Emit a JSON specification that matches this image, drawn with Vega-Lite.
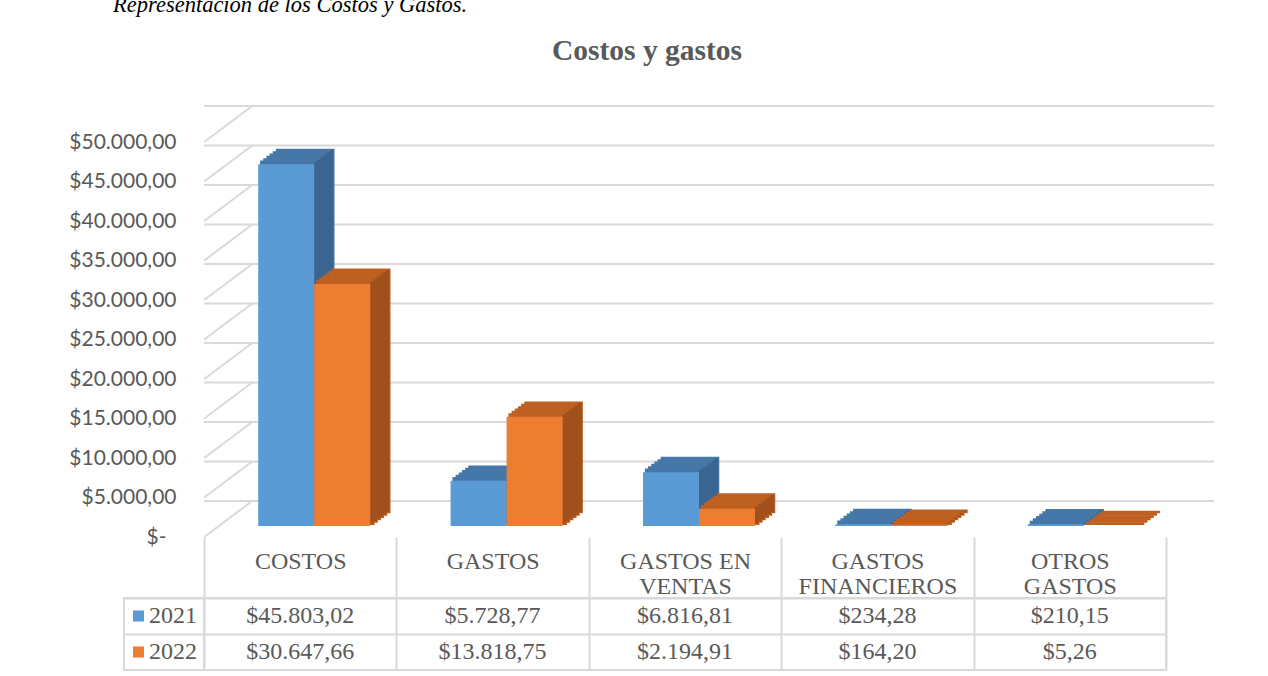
{
  "$schema": "https://vega.github.io/schema/vega-lite/v6.json",
  "padding": {"left": 68, "top": -6, "right": 0, "bottom": 0},
  "config": {
    "view": {"stroke": null},
    "font": "Liberation Serif",
    "locale": {"number": {"decimal": ",", "thousands": ".", "grouping": [3], "currency": ["$", ""]}}
  },
  "title": {"text": "Representación de los Costos y Gastos.", "font": "Liberation Serif", "fontStyle": "italic", "fontWeight": "normal", "fontSize": 22.5, "color": "#000000", "anchor": "start", "frame": "group", "offset": 19, "dx": -11},
  "datasets": {
    "main": [
      {"cat": "COSTOS", "year": "2021", "val": 45803.02},
      {"cat": "COSTOS", "year": "2022", "val": 30647.66},
      {"cat": "GASTOS", "year": "2021", "val": 5728.77},
      {"cat": "GASTOS", "year": "2022", "val": 13818.75},
      {"cat": "GASTOS EN VENTAS", "year": "2021", "val": 6816.81},
      {"cat": "GASTOS EN VENTAS", "year": "2022", "val": 2194.91},
      {"cat": "GASTOS FINANCIEROS", "year": "2021", "val": 234.28},
      {"cat": "GASTOS FINANCIEROS", "year": "2022", "val": 164.20},
      {"cat": "OTROS GASTOS", "year": "2021", "val": 210.15},
      {"cat": "OTROS GASTOS", "year": "2022", "val": 5.26}
    ],
    "grid": [{"val": 0}, {"val": 5000}, {"val": 10000}, {"val": 15000}, {"val": 20000}, {"val": 25000}, {"val": 30000}, {"val": 35000}, {"val": 40000}, {"val": 45000}, {"val": 50000}],
    "years": [{"year": "2021"}, {"year": "2022"}]
  },
  "columns": 2,
  "spacing": {"row": 61, "column": 0},
  "bounds": "flush",
  "align": "each",
  "concat": [
    {
      "width": 80, "height": 395,
      "data": {"name": "years"},
      "mark": {"type": "text"},
      "encoding": {"text": {"value": ""}}
    },
    {
      "width": 962, "height": 395,
      "title": {"text": "Costos y gastos", "font": "Liberation Serif", "fontSize": 29.5, "fontWeight": "bold", "color": "#595959", "anchor": "middle", "frame": "group", "dx": -38, "offset": 36},
      "encoding": {
        "y": {"field": "val", "type": "quantitative", "scale": {"domain": [0, 50000]},
          "axis": {"title": null, "domain": false, "ticks": false, "grid": false, "values": [0, 5000, 10000, 15000, 20000, 25000, 30000, 35000, 40000, 45000, 50000], "format": "$,.2f", "labelExpr": "datum.value == 0 ? '$-' : datum.label", "labelPadding": {"expr": "datum.value == 0 ? 38 : 28"}, "labelFont": "Lato", "labelFontSize": 21, "labelColor": "#595959"}}
      },
      "layer": [
        {
          "data": {"name": "grid"},
          "mark": {"type": "rule", "color": "#d9d9d9", "strokeWidth": 2, "xOffset": 48, "yOffset": -36}
        },
        {
          "data": {"name": "grid"},
          "mark": {"type": "point", "shape": "M-1,0.75L1,-0.75", "size": 2304, "filled": false, "stroke": "#d9d9d9", "strokeWidth": 2, "opacity": 1, "xOffset": -72, "yOffset": -18},
          "encoding": {
            "x": {"datum": "COSTOS", "type": "nominal"}
          }
        },
        {
          "data": {"name": "main"},
          "encoding": {
            "x": {"field": "cat", "type": "nominal", "sort": ["COSTOS", "GASTOS", "GASTOS EN VENTAS", "GASTOS FINANCIEROS", "OTROS GASTOS"],
              "scale": {"paddingInner": 0, "paddingOuter": 0},
              "axis": {"title": null, "orient": "bottom", "domain": false, "grid": false, "ticks": true, "tickBand": "extent", "tickSize": 60, "tickColor": "#d9d9d9", "tickWidth": 2, "labelPadding": -48, "labelAlign": "center", "labelFont": "Liberation Serif", "labelFontSize": 24, "labelColor": "#595959", "labelLineHeight": 25, "labelBaseline": "top", "labelAngle": 0, "labelLimit": 0, "labelOverlap": false, "labelBound": false,
                "labelExpr": "datum.label == 'GASTOS EN VENTAS' ? ['GASTOS EN', 'VENTAS'] : datum.label == 'GASTOS FINANCIEROS' ? ['GASTOS', 'FINANCIEROS'] : datum.label == 'OTROS GASTOS' ? ['OTROS', 'GASTOS'] : datum.label"}}
          },
          "layer": [
            {
              "transform": [{"filter": "datum.year == '2021'"}],
              "layer": [
                {"mark": {"type": "bar", "width": 56, "xOffset": -10.83, "yOffset": -13.33, "color": "#4677a9", "stroke": "#4677a9", "strokeWidth": 2.6}},
                {"mark": {"type": "bar", "width": 56, "xOffset": -7.67, "yOffset": -15.67, "color": "#4677a9", "stroke": "#4677a9", "strokeWidth": 2.6}},
                {"mark": {"type": "bar", "width": 56, "xOffset": -4.5, "yOffset": -18, "color": "#4677a9", "stroke": "#4677a9", "strokeWidth": 2.6}},
                {"mark": {"type": "bar", "width": 56, "xOffset": -1.33, "yOffset": -20.33, "color": "#4677a9", "stroke": "#4677a9", "strokeWidth": 2.6}},
                {"mark": {"type": "bar", "width": 56, "xOffset": 1.83, "yOffset": -22.67, "color": "#4677a9", "stroke": "#4677a9", "strokeWidth": 2.6}},
                {"mark": {"type": "bar", "width": 56, "xOffset": 5, "yOffset": -25, "color": "#4677a9", "stroke": "#4677a9", "strokeWidth": 2.6}},
                {"mark": {"type": "bar", "width": 3.4, "xOffset": 15.58, "yOffset": -13.33, "color": "#3a6591"}},
                {"mark": {"type": "bar", "width": 3.4, "xOffset": 18.75, "yOffset": -15.67, "color": "#3a6591"}},
                {"mark": {"type": "bar", "width": 3.4, "xOffset": 21.92, "yOffset": -18, "color": "#3a6591"}},
                {"mark": {"type": "bar", "width": 3.4, "xOffset": 25.08, "yOffset": -20.33, "color": "#3a6591"}},
                {"mark": {"type": "bar", "width": 3.4, "xOffset": 28.25, "yOffset": -22.67, "color": "#3a6591"}},
                {"mark": {"type": "bar", "width": 3.4, "xOffset": 31.42, "yOffset": -25, "color": "#3a6591"}},
                {"mark": {"type": "bar", "width": 56, "xOffset": -14, "yOffset": -11, "color": "#5b9bd5"}}
              ]
            },
            {
              "transform": [{"filter": "datum.year == '2022'"}],
              "layer": [
                {"mark": {"type": "bar", "width": 56, "xOffset": 45.17, "yOffset": -13.33, "color": "#bf6023", "stroke": "#bf6023", "strokeWidth": 2.6}},
                {"mark": {"type": "bar", "width": 56, "xOffset": 48.33, "yOffset": -15.67, "color": "#bf6023", "stroke": "#bf6023", "strokeWidth": 2.6}},
                {"mark": {"type": "bar", "width": 56, "xOffset": 51.5, "yOffset": -18, "color": "#bf6023", "stroke": "#bf6023", "strokeWidth": 2.6}},
                {"mark": {"type": "bar", "width": 56, "xOffset": 54.67, "yOffset": -20.33, "color": "#bf6023", "stroke": "#bf6023", "strokeWidth": 2.6}},
                {"mark": {"type": "bar", "width": 56, "xOffset": 57.83, "yOffset": -22.67, "color": "#bf6023", "stroke": "#bf6023", "strokeWidth": 2.6}},
                {"mark": {"type": "bar", "width": 56, "xOffset": 61, "yOffset": -25, "color": "#bf6023", "stroke": "#bf6023", "strokeWidth": 2.6}},
                {"mark": {"type": "bar", "width": 3.4, "xOffset": 71.58, "yOffset": -13.33, "color": "#a0501c"}},
                {"mark": {"type": "bar", "width": 3.4, "xOffset": 74.75, "yOffset": -15.67, "color": "#a0501c"}},
                {"mark": {"type": "bar", "width": 3.4, "xOffset": 77.92, "yOffset": -18, "color": "#a0501c"}},
                {"mark": {"type": "bar", "width": 3.4, "xOffset": 81.08, "yOffset": -20.33, "color": "#a0501c"}},
                {"mark": {"type": "bar", "width": 3.4, "xOffset": 84.25, "yOffset": -22.67, "color": "#a0501c"}},
                {"mark": {"type": "bar", "width": 3.4, "xOffset": 87.42, "yOffset": -25, "color": "#a0501c"}},
                {"mark": {"type": "bar", "width": 56, "xOffset": 42, "yOffset": -11, "color": "#ed7d31"}}
              ]
            }
          ]
        }
      ]
    },
    {
      "width": 80, "height": 72,
      "data": {"name": "years"},
      "view": {"stroke": "#d9d9d9", "strokeWidth": 2},
      "encoding": {
        "y": {"field": "year", "type": "nominal", "scale": {"paddingInner": 0, "paddingOuter": 0},
          "axis": {"title": null, "labels": false, "ticks": false, "domain": false, "grid": true, "tickBand": "extent", "gridColor": "#d9d9d9", "gridWidth": 2}}
      },
      "layer": [
        {
          "mark": {"type": "point", "shape": "square", "size": 121, "filled": true, "opacity": 1, "xOffset": -25.5},
          "encoding": {"color": {"field": "year", "type": "nominal", "scale": {"domain": ["2021", "2022"], "range": ["#5b9bd5", "#ed7d31"]}, "legend": null}}
        },
        {
          "mark": {"type": "text", "align": "left", "dx": -15, "font": "Liberation Serif", "fontSize": 24, "color": "#595959"},
          "encoding": {"text": {"field": "year", "type": "nominal"}}
        }
      ]
    },
    {
      "width": 962, "height": 72,
      "data": {"name": "main"},
      "view": {"stroke": "#d9d9d9", "strokeWidth": 2},
      "mark": {"type": "text", "font": "Liberation Serif", "fontSize": 24, "color": "#595959"},
      "encoding": {
        "x": {"field": "cat", "type": "nominal", "sort": ["COSTOS", "GASTOS", "GASTOS EN VENTAS", "GASTOS FINANCIEROS", "OTROS GASTOS"], "scale": {"paddingInner": 0, "paddingOuter": 0},
          "axis": {"title": null, "labels": false, "ticks": false, "domain": false, "grid": true, "tickBand": "extent", "gridColor": "#d9d9d9", "gridWidth": 2}},
        "y": {"field": "year", "type": "nominal", "scale": {"paddingInner": 0, "paddingOuter": 0},
          "axis": {"title": null, "labels": false, "ticks": false, "domain": false, "grid": true, "tickBand": "extent", "gridColor": "#d9d9d9", "gridWidth": 2}},
        "text": {"field": "val", "type": "quantitative", "format": "$,.2f"}
      }
    }
  ]
}
